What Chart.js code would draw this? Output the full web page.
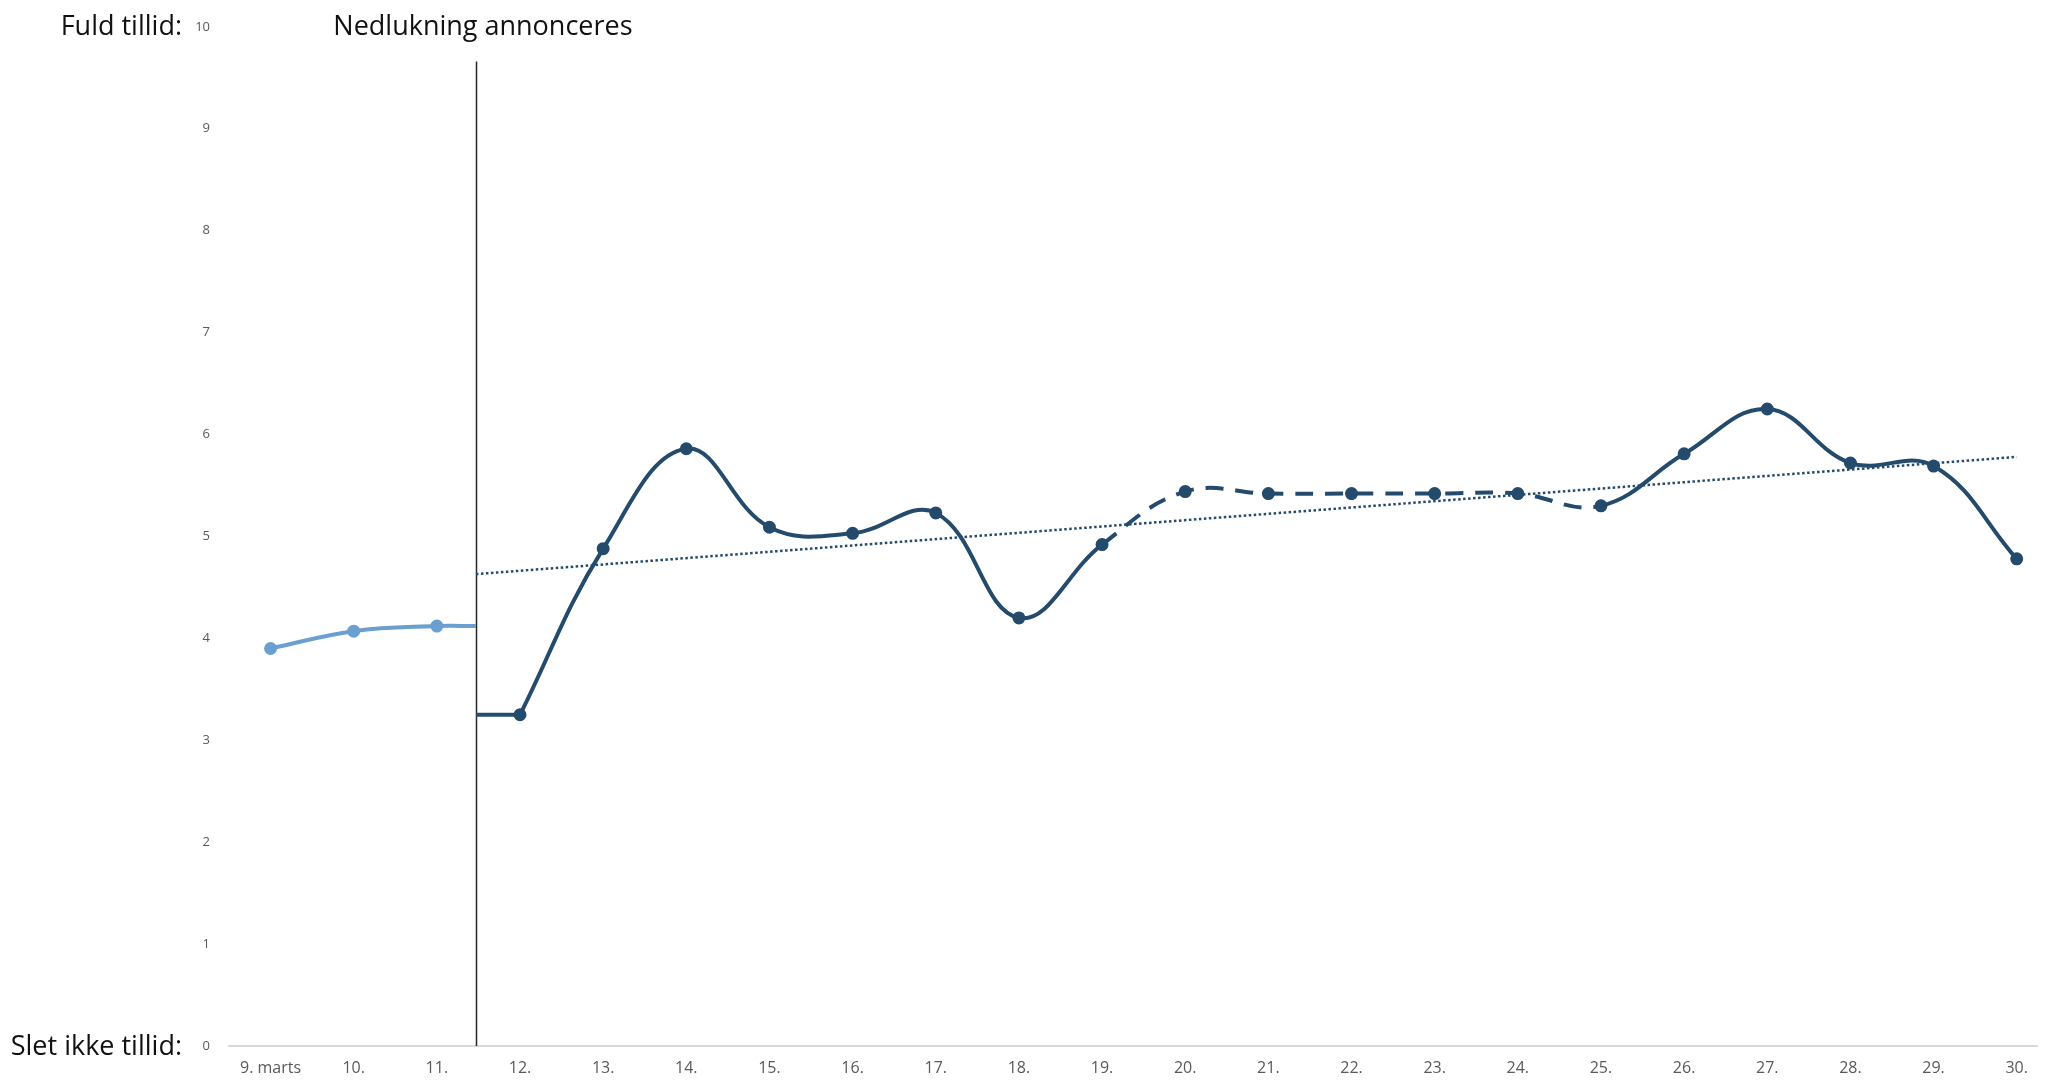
<!DOCTYPE html>
<html><head><meta charset="utf-8">
<script src="https://cdn.jsdelivr.net/npm/chart.js@4"></script>
<style>html,body{margin:0;padding:0;background:#fff;overflow:hidden}#wrap{width:2046px;height:1083px;position:relative}</style>
</head><body><div id="wrap"><canvas id="c"></canvas></div>
<script>
// ---- data ----
const dayLabels = ['9. marts','10.','11.','12.','13.','14.','15.','16.','17.','18.','19.','20.','21.','22.','23.','24.','25.','26.','27.','28.','29.','30.'];
const beforeDays = ['9. marts','10.','11.'];
const beforeValues = [3.90, 4.07, 4.12];
const afterDays = ['12.','13.','14.','15.','16.','17.','18.','19.','20.','21.','22.','23.','24.','25.','26.','27.','28.','29.','30.'];
const afterValues = [3.25, 4.88, 5.86, 5.09, 5.03, 5.23, 4.20, 4.92, 5.44, 5.42, 5.42, 5.42, 5.42, 5.30, 5.81, 6.25, 5.72, 5.69, 4.78];
const estimatedDays = ['20.','21.','22.','23.','24.'];
const announcePosition = 2.47;         // between 11. and 12.
const announceText = 'Nedlukning annonceres';
const trendValues = [4.63, 5.78];      // at announcement and at 30.
const yTickLabels = ['0','1','2','3','4','5','6','7','8','9','10'];
const topLabel = 'Fuld tillid:';
const bottomLabel = 'Slet ikke tillid:';

// ---- build ----
const idx = d => dayLabels.indexOf(d);
const beforeData = beforeDays.map((d,i)=>({x:idx(d), y:beforeValues[i]}));
beforeData.push({x:announcePosition, y:beforeValues[beforeValues.length-1]});
const afterData = afterDays.map((d,i)=>({x:idx(d), y:afterValues[i]}));
const afterExt = [{x:announcePosition, y:afterValues[0]}, {x:idx(afterDays[0]), y:afterValues[0]}];
const trendData = [{x:announcePosition, y:trendValues[0]}, {x:idx(afterDays[afterDays.length-1]), y:trendValues[1]}];
const estSet = new Set(estimatedDays.map(idx));

const FONT = "'Open Sans', sans-serif";
const DARK = '#244a6c';
const LIGHT = '#6a9fd0';

const annot = {
  id:'annot',
  beforeDatasetsDraw(chart){
    const {ctx, scales:{x,y}, chartArea} = chart;
    const px = Math.round(x.getPixelForValue(announcePosition)) + 0.5;
    ctx.save();
    ctx.strokeStyle = '#262626';
    ctx.lineWidth = 1.5;
    ctx.beginPath();
    ctx.moveTo(px, y.getPixelForValue(9.66));
    ctx.lineTo(px, chartArea.bottom);
    ctx.stroke();
    ctx.restore();
  },
  afterDraw(chart){
    const {ctx, scales:{x,y}, chartArea} = chart;
    ctx.save();
    ctx.fillStyle = '#111';
    ctx.font = '27px ' + FONT;
    ctx.textBaseline = 'middle';
    ctx.textAlign = 'right';
    ctx.fillText(topLabel, chartArea.left - 47, y.getPixelForValue(10) + 1);
    ctx.fillText(bottomLabel, chartArea.left - 47, y.getPixelForValue(0) + 1);
    ctx.textAlign = 'center';
    ctx.fillText(announceText, x.getPixelForValue(announcePosition) + 7, y.getPixelForValue(10) + 1);
    ctx.restore();
  }
};

new Chart(document.getElementById('c'), {
  type:'line',
  data:{datasets:[
    {data:trendData, borderColor:DARK, borderWidth:2.5, borderDash:[2.5,2.5], pointRadius:0, tension:0, order:3},
    {data:beforeData, borderColor:LIGHT, backgroundColor:LIGHT, borderWidth:4, tension:0.4,
      pointRadius:beforeData.map(p=>p.x===announcePosition?0:4.5), pointHoverRadius:0, order:2},
    {data:afterExt, borderColor:DARK, borderWidth:4, tension:0, pointRadius:0, order:1},
    {data:afterData, borderColor:DARK, backgroundColor:DARK, borderWidth:4, tension:0.4,
      pointRadius:4.5, order:0,
      segment:{borderDash: c => (estSet.has(afterData[c.p0DataIndex].x) || estSet.has(afterData[c.p1DataIndex].x)) ? [18,12] : undefined}}
  ]},
  options:{
    responsive:true, maintainAspectRatio:false, animation:false,
    layout:{padding:{top:20,left:0,right:0,bottom:0}},
    plugins:{legend:{display:false}, tooltip:{enabled:false}},
    scales:{
      x:{type:'linear', min:-0.5, max:21.25,
        afterBuildTicks: s => { s.ticks = dayLabels.map((_,i)=>({value:i})); },
        afterFit: s => { s.height = 37; },
        grid:{display:false, drawTicks:false},
        border:{display:true, color:'#d9d9d9', width:2},
        ticks:{padding:13, color:'#595959', font:{family:FONT, size:16}, maxRotation:0, autoSkip:false,
          callback: v => dayLabels[v] ?? ''}
      },
      y:{min:0, max:10,
        afterBuildTicks: s => { s.ticks = yTickLabels.map((_,i)=>({value:i})); },
        afterFit: s => { s.width = 229; },
        grid:{display:false, drawTicks:false},
        border:{display:false},
        ticks:{padding:19, color:'#595959', font:{family:FONT, size:13}, callback: v => yTickLabels[v]}
      }
    }
  },
  plugins:[annot]
});
</script></body></html>
